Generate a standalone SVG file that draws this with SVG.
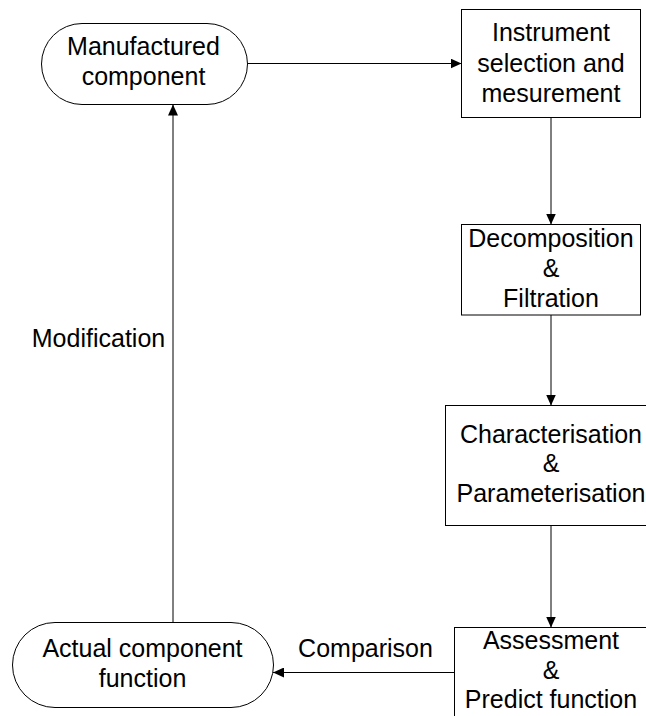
<svg xmlns="http://www.w3.org/2000/svg" width="646" height="716" viewBox="0 0 646 716">
  <style>
    .shape { fill: #ffffff; stroke: #000000; stroke-width: 1; }
    .conn { fill: none; stroke: #000000; stroke-width: 1; }
    text { font-family: "Liberation Sans", Arial, Helvetica, sans-serif; font-size: 25px; fill: #000000; text-anchor: middle; }
  </style>
  <defs>
    <marker id="arrow" markerUnits="userSpaceOnUse" markerWidth="12" markerHeight="10" refX="11" refY="5" orient="auto">
      <path d="M0,0 L11,5 L0,10 Z" fill="#000000"/>
    </marker>
  </defs>
  <rect width="646" height="716" fill="#ffffff"/>
  <g id="connectors">
    <line class="conn" x1="247.5" y1="63.5" x2="461.5" y2="63.5" marker-end="url(#arrow)"/>
    <line class="conn" x1="551" y1="117.5" x2="551" y2="224.5" marker-end="url(#arrow)"/>
    <line class="conn" x1="551" y1="315" x2="551" y2="405.5" marker-end="url(#arrow)"/>
    <line class="conn" x1="551" y1="525.5" x2="551" y2="627.5" marker-end="url(#arrow)"/>
    <line class="conn" x1="454.5" y1="672.5" x2="273" y2="672.5" marker-end="url(#arrow)"/>
    <line class="conn" x1="173" y1="622.5" x2="173" y2="104.5" marker-end="url(#arrow)"/>
  </g>
  <g id="manufactured">
    <rect class="shape" x="41.5" y="23.5" width="206" height="81" rx="40.5" ry="40.5"/>
    <text x="143.5" y="55">Manufactured</text>
    <text x="143.5" y="85">component</text>
  </g>
  <g id="instrument">
    <rect class="shape" x="461.5" y="9.5" width="179" height="108"/>
    <text x="551" y="41">Instrument</text>
    <text x="551" y="72">selection and</text>
    <text x="551" y="102">mesurement</text>
  </g>
  <g id="decomposition">
    <rect class="shape" x="461.5" y="224.5" width="179" height="90.5"/>
    <text x="551" y="247">Decomposition</text>
    <text x="551" y="277">&amp;</text>
    <text x="551" y="307">Filtration</text>
  </g>
  <g id="characterisation">
    <rect class="shape" x="445.5" y="405.5" width="220" height="120"/>
    <text x="551" y="443">Characterisation</text>
    <text x="551" y="472">&amp;</text>
    <text x="551" y="502">Parameterisation</text>
  </g>
  <g id="assessment">
    <rect class="shape" x="454.5" y="627.5" width="210" height="100"/>
    <text x="551" y="649">Assessment</text>
    <text x="551" y="679">&amp;</text>
    <text x="551" y="708">Predict function</text>
  </g>
  <g id="actual">
    <rect class="shape" x="12.5" y="622.5" width="261" height="85" rx="42.5" ry="42.5"/>
    <text x="142.5" y="657">Actual component</text>
    <text x="142.5" y="687">function</text>
  </g>
  <g id="labels">
    <text x="365.5" y="657">Comparison</text>
    <text x="98.5" y="347">Modification</text>
  </g>
</svg>
